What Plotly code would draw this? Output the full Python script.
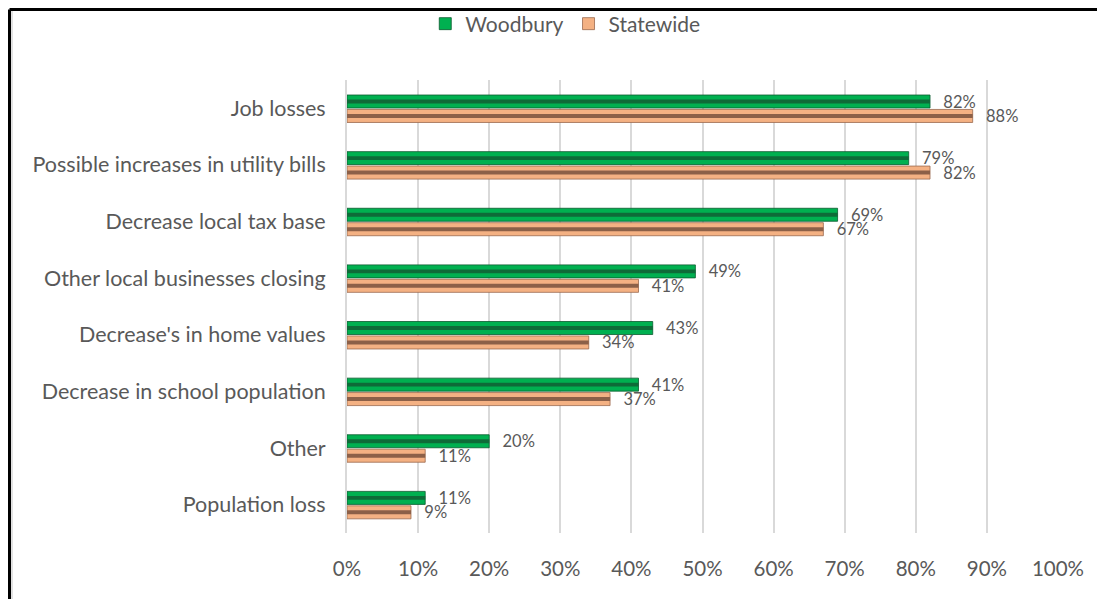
import plotly.graph_objects as go

categories = ["Job losses", "Possible increases in utility bills", "Decrease local tax base",
              "Other local businesses closing", "Decrease's in home values",
              "Decrease in school population", "Other", "Population loss"]
woodbury = [82, 79, 69, 49, 43, 41, 20, 11]
statewide = [88, 82, 67, 41, 34, 37, 11, 9]
tick_vals = [0, 10, 20, 30, 40, 50, 60, 70, 80, 90, 100]
tick_text = [f"{v}%" for v in tick_vals]

# page body has an 8px margin; compensate
OFF = 8
W, H = 1105 - OFF, 599 - OFF
L, R, T, B = 347 - OFF, 47, 80 - OFF, 66
pw, ph = W - L - R, H - T - B

FONT = "Lato"
GREEN, GREEN_D = "#00B050", "#0E6B38"
ORANGE, ORANGE_D = "#F4B183", "#8C6048"
BW = 0.23
PAD = "\u2002\u2009"

fig = go.Figure()
fig.add_trace(go.Bar(y=categories, x=woodbury, orientation="h", name="Woodbury",
                     marker=dict(color=GREEN, line=dict(color="#0A5A2E", width=0.8)),
                     width=BW, offset=-BW - 0.005,
                     text=[f"{PAD}{v}%" for v in woodbury], textposition="outside", constraintext="none",
                     textfont=dict(size=16.5, color="#595959", family=FONT), cliponaxis=False))
fig.add_trace(go.Bar(y=categories, x=statewide, orientation="h", name="Statewide",
                     marker=dict(color=ORANGE, line=dict(color="#9A6A4E", width=0.8)),
                     width=BW, offset=0.02,
                     text=[f"{PAD}{v}%" for v in statewide], textposition="outside", constraintext="none",
                     textfont=dict(size=16.5, color="#595959", family=FONT), cliponaxis=False))
# bevel stripes
fig.add_trace(go.Bar(y=categories, x=woodbury, orientation="h", showlegend=False, hoverinfo="skip",
                     marker=dict(color=GREEN_D, line=dict(width=0)), width=0.07,
                     offset=-BW / 2 - 0.005 - 0.035))
fig.add_trace(go.Bar(y=categories, x=statewide, orientation="h", showlegend=False, hoverinfo="skip",
                     marker=dict(color=ORANGE_D, line=dict(width=0)), width=0.07,
                     offset=0.02 + BW / 2 - 0.035))

# frame border (left and top black lines), at the very edge of the figure
x_left = (1.5 - L) / pw
y_top = 1 + (T - 1.5) / ph
fig.add_shape(type="line", xref="paper", yref="paper", x0=x_left, x1=(W - L + 5) / pw,
              y0=y_top, y1=y_top, line=dict(color="black", width=3))
fig.add_shape(type="line", xref="paper", yref="paper", x0=x_left, x1=x_left,
              y0=y_top, y1=-(B + 5) / ph, line=dict(color="black", width=3))
fig.add_shape(type="line", xref="paper", yref="paper", x0=(4 - L) / pw, x1=(4 - L) / pw,
              y0=1 + (T - 3) / ph, y1=-(B + 5) / ph, line=dict(color="#D9D9D9", width=1.5))

fig.update_layout(
    width=W, height=H,
    margin=dict(l=L, r=R, t=T, b=B),
    barmode="overlay",
    plot_bgcolor="white", paper_bgcolor="white",
    font=dict(family=FONT, color="#595959"),
    legend=dict(orientation="h", x=0.508, xref="container", xanchor="center",
                y=1 - (24 - OFF) / H, yref="container", yanchor="middle",
                font=dict(size=21, color="#595959", family=FONT),
                itemwidth=30, traceorder="normal", bgcolor="rgba(0,0,0,0)"),
    showlegend=True,
)
fig.update_xaxes(range=[0, 100], tickvals=tick_vals, ticktext=tick_text, showgrid=True,
                 gridcolor="#D9D9D9", gridwidth=2, zeroline=False, showline=False,
                 tickfont=dict(size=20.5, color="#595959", family=FONT), ticks="", ticklabelstandoff=21)
fig.update_yaxes(autorange="reversed", showgrid=False, showline=True, linecolor="#D9D9D9", linewidth=2,
                 tickfont=dict(size=21.5, color="#595959", family=FONT), ticks="", ticklabelstandoff=15)

fig.write_html("out.html")
